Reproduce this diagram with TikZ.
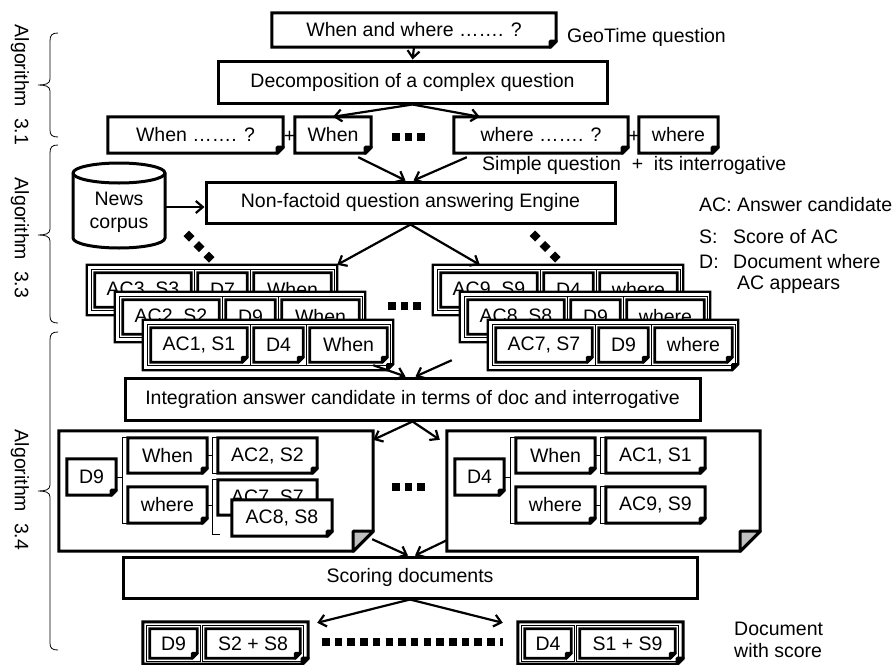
\documentclass[tikz,border=0pt]{standalone}
\usepackage{fontspec}
\setmainfont{Liberation Sans}
\usetikzlibrary{arrows.meta,decorations.pathreplacing}
\newcommand\rbox[7][]{%
 \pgfmathsetmacro\rbX{((#3)+(#5))/2}%
 \pgfmathsetmacro\rbY{((#4)+(#6))/2}%
 \pgfmathsetmacro\rbW{(#5)-(#3)}%
 \pgfmathsetmacro\rbH{(#6)-(#4)}%
 \node[#1, minimum width=\rbW pt, minimum height=\rbH pt] (#2) at (\rbX,\rbY) {#7};}
\newcommand\dogear[4][black]{%
 \draw[line width=#4, line join=miter] (#2.north west) -- (#2.north east) -- ([yshift=#3]#2.south east) -- ([xshift=-#3]#2.south east) -- (#2.south west) -- cycle;
 \draw[line width=#4, fill=#1, line join=round] ([yshift=#3]#2.south east) -- ([xshift=-#3]#2.south east) -- ([xshift=-#3,yshift=#3]#2.south east) -- cycle;}
% thin outer line of a double-bordered box
\newcommand\dbl[1]{%
 \draw[line width=0.7pt] ([shift={(-3pt,3pt)}]#1.north west) rectangle ([shift={(3pt,-3pt)}]#1.south east);}
\newcommand\card[6]{%
 \rbox[nb]{#1c}{#2}{#3}{(#2)+250}{(#3)+50}{}%
 \dogear{#1c}{6pt}{2.2pt}%
 \rbox[nb]{#1a}{(#2)+8}{(#3)+8}{(#2)+104}{(#3)+42}{#4}%
 \dbl{#1a}\dogear{#1a}{5pt}{2.8pt}%
 \rbox[nb]{#1d}{(#2)+111}{(#3)+8}{(#2)+160}{(#3)+42}{#5}%
 \dbl{#1d}\dogear{#1d}{5pt}{2.8pt}%
 \rbox[nb]{#1i}{(#2)+167}{(#3)+8}{(#2)+244}{(#3)+42}{#6}%
 \dbl{#1i}\dogear{#1i}{5pt}{2.8pt}}
\begin{document}
\begin{tikzpicture}[x=1pt,y=-1pt,
 every node/.style={font=\fontsize{19.5}{23}\selectfont},
 nb/.style={draw=none, fill=white, inner sep=0pt, align=center},
 bx/.style={draw, line width=3pt, fill=white, inner sep=0pt},
 arr/.style={line width=2.2pt, -{Straight Barb[length=7pt,width=12pt]}},
 brk/.style={line width=0.8pt},
 sq/.style={line width=7.5pt, dash pattern=on 7.5pt off 5.2pt},
 lbl/.style={inner sep=0pt, anchor=west, align=left},
 alg/.style={rotate=-90, inner sep=0pt},
 algbr/.style={line width=0.8pt}]
\useasboundingbox (0,0) rectangle (893,664);

% ---------- Algorithm 3.1 ----------
\rbox[nb]{q}{272}{13}{556}{47}{When and where ……. ?}
\dogear{q}{6pt}{3pt}
\node[lbl] (geo) at (567,37) {GeoTime question};
\rbox[bx]{dec}{218}{61}{607}{103}{Decomposition of a complex question}
\draw[arr] (q.south) -- (dec.north);

\rbox[nb]{w1}{108}{117}{283}{153}{When ……. ?}
\dogear{w1}{6pt}{3pt}
\node[inner sep=0pt] (p1) at (289.5,137) {+};
\rbox[nb]{w2}{295}{117}{371}{153}{When}
\dogear{w2}{6pt}{3pt}
\draw[sq] (392,137) -- (430,137);
\rbox[nb]{h1}{454}{117}{628}{153}{where ……. ?}
\dogear{h1}{6pt}{3pt}
\node[inner sep=0pt] (p2) at (634,137) {+};
\rbox[nb]{h2}{639}{117}{718}{153}{where}
\dogear{h2}{6pt}{3pt}
\node[lbl] (simple) at (482,165) {Simple question\ \ +\ \ its interrogative};
\draw[arr] (dec.south) -- (w2.north);
\draw[arr] (dec.south) -- ([xshift=26pt]h1.north west);

% ---------- Algorithm 3.3 ----------
\rbox[bx]{nf}{206}{182}{615}{223}{Non-factoid question answering Engine}
\draw[arr] ([shift={(-13,4)}]w2.south east) -- ([xshift=-5pt]nf.north);
\draw[arr] ([shift={(13,4)}]h1.south west) -- ([xshift=3pt]nf.north);

\node[inner sep=0pt, align=center, minimum width=92pt, minimum height=78pt] (news) at (119,212) {News\\corpus};
\draw[line width=3pt] (73,173) -- (73,238) arc[start angle=180,end angle=360,x radius=46pt,y radius=10pt] -- (165,173) arc[start angle=0,end angle=180,x radius=46pt,y radius=10pt] -- cycle;
\draw[line width=3pt] (73,173) arc[start angle=180,end angle=360,x radius=46pt,y radius=10pt];
\draw[arr] ([yshift=5pt]news.east) -- ([yshift=5pt]news.east -| nf.west);

\foreach \dx/\dy in {189/236,199/246.5,209/257,535/236,545/246.5,555/257}
  \fill (\dx-5.5,\dy) -- (\dx,\dy-5.5) -- (\dx+5.5,\dy) -- (\dx,\dy+5.5) -- cycle;

\node[lbl] (lg1) at (699,205) {AC: Answer candidate};
\node[lbl] (lg2) at (699,237) {S:};
\node[lbl] (lg3) at (733,237) {Score of AC};
\node[lbl] (lg4) at (699,262) {D:};
\node[lbl] (lg5) at (733,262) {Document where};
\node[lbl] (lg6) at (737,285) {AC appears};

\card{L3}{87}{265}{AC3, S3}{D7}{When}
\card{L2}{115}{292}{AC2, S2}{D9}{When}
\card{L1}{143}{320}{AC1, S1}{D4}{When}
\card{R3}{433}{265}{AC9, S9}{D4}{where}
\card{R2}{460}{292}{AC8, S8}{D9}{where}
\card{R1}{488}{320}{AC7, S7}{D9}{where}
\draw[sq] (388,306) -- (426,306);
\draw[arr] (nf.south) -- (L3c.north east);
\draw[arr] (nf.south) -- ([xshift=47pt]R3c.north west);

% ---------- Algorithm 3.4 ----------
\rbox[bx]{int}{125}{378}{700}{420}{Integration answer candidate in terms of doc and interrogative}
\draw[arr] ([shift={(-20,-5)}]L1c.south east) -- ([xshift=-7pt]int.north);
\draw[arr] ([shift={(-36,-10)}]R1c.south west) -- ([xshift=3pt]int.north);

\rbox[nb]{bigL}{59}{431}{373}{551}{}
\dogear[black!25]{bigL}{20pt}{3pt}
\rbox[nb]{ld}{67}{459}{116}{495}{D9}
\dogear{ld}{5pt}{3pt}
\rbox[nb]{lw}{128}{438}{207}{473}{When}
\dogear{lw}{5pt}{3pt}
\rbox[nb]{lh}{128}{487}{207}{523}{where}
\dogear{lh}{5pt}{3pt}
\rbox[nb]{la2}{218}{438}{317}{473}{AC2, S2}
\dogear{la2}{5pt}{3pt}
\rbox[nb]{la7}{218}{480}{317}{515}{AC7, S7}
\dogear{la7}{5pt}{3pt}
\rbox[nb]{la8}{232}{500}{332}{536}{AC8, S8}
\dogear{la8}{5pt}{3pt}
\draw[brk] (lw.north west) -- ++(-5,0) |- (lh.south west);
\draw[brk] (ld.east) -- ++(7,0);
\draw[brk] (la2.north west) -- ++(-5,0) |- (la2.south west);
\draw[brk] (lw.east) -- ++(6,0);
\draw[brk] (la7.north west) -- ++(-5,0) -- ++(0,55) -- ++(7,0);
\draw[brk] (lh.east) -- ++(6,0);

\draw[sq] (392,487) -- (430,487);

\rbox[nb]{bigR}{447}{431}{760}{551}{}
\dogear[black!25]{bigR}{20pt}{3pt}
\rbox[nb]{rd}{455}{459}{504}{495}{D4}
\dogear{rd}{5pt}{3pt}
\rbox[nb]{rw}{516}{438}{595}{473}{When}
\dogear{rw}{5pt}{3pt}
\rbox[nb]{rh}{516}{487}{595}{523}{where}
\dogear{rh}{5pt}{3pt}
\rbox[nb]{ra1}{606}{438}{705}{473}{AC1, S1}
\dogear{ra1}{5pt}{3pt}
\rbox[nb]{ra9}{606}{487}{705}{523}{AC9, S9}
\dogear{ra9}{5pt}{3pt}
\draw[brk] (rw.north west) -- ++(-5,0) |- (rh.south west);
\draw[brk] (rd.east) -- ++(7,0);
\draw[brk] (ra1.north west) -- ++(-5,0) |- (ra1.south west);
\draw[brk] (rw.east) -- ++(6,0);
\draw[brk] (ra9.north west) -- ++(-5,0) |- (ra9.south west);
\draw[brk] (rh.east) -- ++(6,0);

\draw[arr] (int.south) -- ([shift={(0,9)}]bigL.north east);
\draw[arr] (int.south) -- ([shift={(-7,9)}]bigR.north west);

\rbox[bx]{sc}{123}{557}{697}{598}{Scoring documents}
\draw[arr] ([shift={(-1,-12)}]bigL.south east) -- ([xshift=-2pt]sc.north);
\draw[arr] ([shift={(0,-11)}]bigR.south west) -- ([xshift=5pt]sc.north);

\rbox[nb]{bl}{143}{622}{308}{664}{}
\dogear{bl}{6pt}{3pt}
\rbox[nb]{bld}{150}{629}{197}{658}{D9}
\dbl{bld}\dogear{bld}{5pt}{2.8pt}
\rbox[nb]{bls}{206}{629}{300}{658}{S2 + S8}
\dbl{bls}\dogear{bls}{5pt}{2.8pt}
\rbox[nb]{br}{518}{622}{683}{664}{}
\dogear{br}{6pt}{3pt}
\rbox[nb]{brd}{525}{629}{571}{658}{D4}
\dbl{brd}\dogear{brd}{5pt}{2.8pt}
\rbox[nb]{brs}{580}{629}{675}{658}{S1 + S9}
\dbl{brs}\dogear{brs}{5pt}{2.8pt}
\draw[sq] (322,642) -- (503,642);
\draw[arr] (sc.south) -- ([shift={(9,1)}]bl.north east);
\draw[arr] (sc.south) -- ([shift={(-15,1)}]br.north west);
\node[lbl, font=\fontsize{19.5}{22}\selectfont] (dws) at (734,640) {Document\\with score};

% ---------- algorithm braces ----------
\draw[algbr] (58,33) .. controls (52,33) and (50,35) .. (50,41) -- (50,79) .. controls (50,84) and (45,85) .. (38,85) .. controls (45,85) and (50,86) .. (50,91) -- (50,130) .. controls (50,135) and (52,137) .. (58,137);
\node[alg] (a31) at (20,85) {Algorithm\ \ 3.1};
\draw[algbr] (58,145) .. controls (52,145) and (50,147) .. (50,153) -- (50,229) .. controls (50,234) and (45,235) .. (38,235) .. controls (45,235) and (50,236) .. (50,241) -- (50,316) .. controls (50,321) and (52,323) .. (58,323);
\node[alg] (a33) at (20,238) {Algorithm\ \ 3.3};
\draw[algbr] (58,332) .. controls (52,332) and (50,334) .. (50,340) -- (50,485) .. controls (50,490) and (45,491) .. (38,491) .. controls (45,491) and (50,492) .. (50,497) -- (50,643) .. controls (50,648) and (52,650) .. (58,650);
\node[alg] (a34) at (20,490) {Algorithm\ \ 3.4};
\end{tikzpicture}
\end{document}
